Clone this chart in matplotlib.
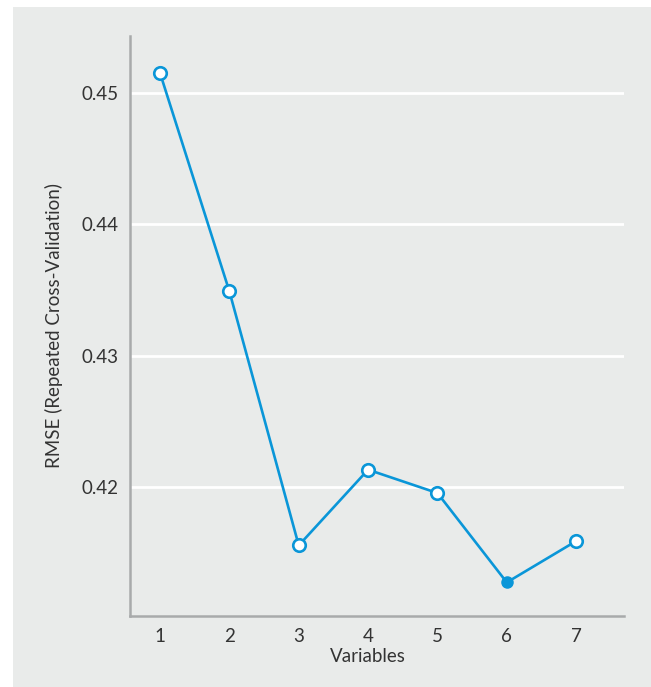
import matplotlib.pyplot as plt
from matplotlib.patches import Rectangle

# values
variables = [1, 2, 3, 4, 5, 6, 7]
rmse = [0.45153, 0.43489, 0.41553, 0.42130, 0.41952, 0.41271, 0.41586]
best = 6  # filled marker
yticks = [0.42, 0.43, 0.44, 0.45]

blue = '#0a96d8'
panel = '#e9ebea'
txt = '#333333'

plt.rcParams['font.family'] = ['Lato', 'DejaVu Sans']

fig = plt.figure(figsize=(6.51, 6.87), dpi=100, facecolor='white')
fig.patches.append(Rectangle((13 / 651, 0), 1, 680 / 687, transform=fig.transFigure,
                             facecolor=panel, edgecolor='none', zorder=-5))

ax = fig.add_axes([130 / 651, 71 / 687, 494 / 651, 580 / 687])
ax.set_facecolor(panel)

for y in yticks:
    ax.axhline(y, color='white', lw=2, zorder=1)

ax.plot(variables, rmse, color=blue, lw=1.9, zorder=2)
open_x = [v for v in variables if v != best]
open_y = [r for v, r in zip(variables, rmse) if v != best]
ax.plot(open_x, open_y, 'o', ms=9, mfc='white', mec=blue, mew=1.9, zorder=3)
ax.plot([best], [rmse[variables.index(best)]], 'o', ms=8, mfc=blue, mec=blue, zorder=3)

ax.set_xlim(0.567, 7.69)
ax.set_ylim(0.41015, 0.45435)
ax.set_xticks(variables)
ax.set_yticks(yticks)
ax.set_yticklabels(['%.2f' % t for t in yticks])
ax.tick_params(length=0, labelsize=13.5, colors=txt)
ax.tick_params(axis='x', pad=9)
ax.tick_params(axis='y', pad=8)

for s in ['top', 'right']:
    ax.spines[s].set_visible(False)
for s in ['left', 'bottom']:
    ax.spines[s].set_color('#a8aaab')
    ax.spines[s].set_linewidth(1.8)

ax.set_xlabel('Variables', fontsize=13.5, color=txt)
ax.xaxis.set_label_coords((4 - 0.567) / (7.69 - 0.567), -0.055)
ax.set_ylabel('RMSE (Repeated Cross-Validation)', fontsize=13.5, color=txt)
ax.yaxis.set_label_coords(-0.135, 0.5)

fig.savefig('out.png', dpi=100, facecolor='white')
